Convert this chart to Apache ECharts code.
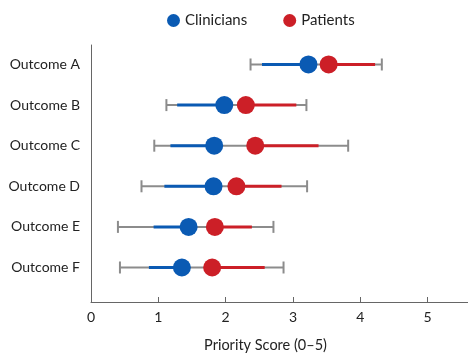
<!DOCTYPE html>
<html>
<head>
<meta charset="utf-8">
<script src="https://cdn.jsdelivr.net/npm/echarts@6/dist/echarts.min.js"></script>
<style>html,body{margin:0;padding:0;background:#fff}#c{width:468px;height:358px}</style>
</head>
<body>
<div id="c"></div>
<script>
var categories = ['Outcome A', 'Outcome B', 'Outcome C', 'Outcome D', 'Outcome E', 'Outcome F'];
var rangeMin   = [2.37, 1.12, 0.94, 0.75, 0.40, 0.43];
var rangeMax   = [4.32, 3.20, 3.82, 3.21, 2.71, 2.86];
var clinLow    = [2.54, 1.28, 1.18, 1.09, 0.93, 0.86];
var clinScore  = [3.23, 1.98, 1.83, 1.82, 1.45, 1.35];
var patScore   = [3.53, 2.30, 2.44, 2.16, 1.84, 1.80];
var patHigh    = [4.22, 3.05, 3.38, 2.83, 2.39, 2.58];
var xTicks     = [0, 1, 2, 3, 4, 5];

var BLUE = '#0a5ab3', RED = '#cc1f27', GRAY = '#8c8c8c';
var FONT = 'Lato';

function pairs(a, b) { return a.map(function (v, i) { return [v, b[i], i]; }); }

function segmentRenderer(color, width, caps) {
  return function (params, api) {
    var y = api.value(2);
    var p1 = api.coord([api.value(0), y]);
    var p2 = api.coord([api.value(1), y]);
    var children = [{
      type: 'line',
      shape: { x1: p1[0], y1: p1[1], x2: p2[0], y2: p2[1] },
      style: { stroke: color, lineWidth: width }
    }];
    if (caps) {
      [p1, p2].forEach(function (p) {
        children.push({
          type: 'line',
          shape: { x1: p[0], y1: p[1] - 6, x2: p[0], y2: p[1] + 6 },
          style: { stroke: color, lineWidth: width }
        });
      });
    }
    return { type: 'group', children: children };
  };
}

var chart = echarts.init(document.getElementById('c'), null, { renderer: 'canvas' });
chart.setOption({
  animation: false,
  textStyle: { fontFamily: FONT },
  legend: {
    data: ['Clinicians', 'Patients'],
    top: 8, left: 162,
    icon: 'circle', itemWidth: 13, itemHeight: 13, itemGap: 36,
    textStyle: { fontFamily: FONT, fontSize: 15, color: '#222' }
  },
  grid: { left: 91, right: 0, top: 45, bottom: 51 },
  xAxis: {
    type: 'value', min: 0, max: 5.6,
    name: 'Priority Score (0–5)', nameLocation: 'middle', nameGap: 36,
    nameTextStyle: { fontFamily: FONT, fontSize: 14.5, color: '#222', padding: [0, 28, 0, 0] },
    axisLine: { onZero: false, lineStyle: { color: '#666', width: 1 } },
    axisTick: { show: true, inside: true, length: 5, customValues: [1, 2, 3, 4, 5], lineStyle: { color: '#666' } },
    axisLabel: { customValues: xTicks, fontFamily: FONT, fontSize: 14, color: '#222', margin: 8 },
    splitLine: { show: false }
  },
  yAxis: {
    type: 'value', inverse: true, min: -0.48, max: 5.85,
    axisLine: { show: true, onZero: false, lineStyle: { color: '#666', width: 1 } },
    axisTick: { show: false },
    splitLine: { show: false },
    axisLabel: {
      customValues: [0, 1, 2, 3, 4, 5],
      formatter: function (v) { return categories[Math.round(v)] || ''; },
      fontFamily: FONT, fontSize: 14, color: '#222', margin: 11
    }
  },
  series: [
    { type: 'custom', name: 'range', z: 1, renderItem: segmentRenderer(GRAY, 2, true),
      data: pairs(rangeMin, rangeMax), encode: { x: [0, 1], y: 2 }, silent: true },
    { type: 'custom', name: 'clinSeg', z: 2, renderItem: segmentRenderer(BLUE, 3, false),
      data: pairs(clinLow, clinScore), encode: { x: [0, 1], y: 2 }, silent: true },
    { type: 'custom', name: 'patSeg', z: 2, renderItem: segmentRenderer(RED, 3, false),
      data: pairs(patScore, patHigh), encode: { x: [0, 1], y: 2 }, silent: true },
    { type: 'scatter', name: 'Clinicians', z: 3, symbolSize: 18,
      itemStyle: { color: BLUE, opacity: 1 },
      data: clinScore.map(function (v, i) { return [v, i]; }) },
    { type: 'scatter', name: 'Patients', z: 3, symbolSize: 18,
      itemStyle: { color: RED, opacity: 1 },
      data: patScore.map(function (v, i) { return [v, i]; }) }
  ]
});
</script>
</body>
</html>
